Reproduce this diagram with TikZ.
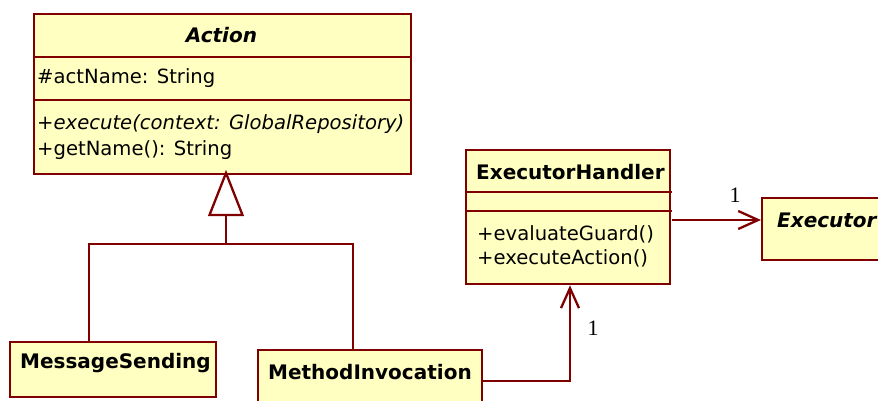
\documentclass[tikz,border=0pt]{standalone}
\usepackage{fontspec}
\setmainfont{DejaVu Sans}
\newfontfamily\mulfont{Liberation Serif}
\usetikzlibrary{arrows.meta}
\definecolor{umlborder}{RGB}{128,0,0}
\definecolor{umlfill}{RGB}{255,255,194}
\tikzset{
  classbox/.style={draw=umlborder, fill=umlfill, line width=2.3pt, rectangle, inner sep=0pt, anchor=north west},
  sepline/.style={draw=umlborder, line width=2pt},
  conn/.style={draw=umlborder, line width=2.3pt},
  member/.style={anchor=west, inner sep=0pt, font=\fontsize{19.6}{22}\selectfont},
  cname/.style={inner sep=0pt, font=\fontsize{20}{22}\selectfont\bfseries},
  mult/.style={inner sep=0pt, font=\fontsize{22}{24}\mulfont},
  assoc/.style={conn, -{Straight Barb[length=20pt,width=18pt,line width=2.3pt]}},
}
\begin{document}
\begin{tikzpicture}[x=1pt,y=-1pt]
\useasboundingbox (0,0) rectangle (878,401);

% Action (abstract)
\node[classbox, minimum width=377pt, minimum height=160pt] (action) at (33,13) {};
\draw[sepline] (33,57) -- (412,57);
\draw[sepline] (33,100) -- (412,100);
\node[cname, font=\fontsize{20}{22}\selectfont\bfseries\itshape] (actiont) at (221.5,35) {Action};
\node[member] (actattr) at (37,78) {\#actName: String};
\node[member, font=\fontsize{19.6}{22}\selectfont\itshape] (actop1) at (37,124) {+execute(context: GlobalRepository)};
\node[member] (actop2) at (37,150) {+getName(): String};

% ExecutorHandler
\node[classbox, minimum width=204pt, minimum height=134pt] (handler) at (465,149) {};
\draw[sepline] (465,192) -- (672,192);
\draw[sepline] (465,211) -- (672,211);
\node[cname, anchor=west] (handlert) at (476,172) {ExecutorHandler};
\node[member] (hop1) at (477,234) {+evaluateGuard()};
\node[member] (hop2) at (477,258) {+executeAction()};

% Executor (abstract)
\node[classbox, minimum width=130pt, minimum height=62pt] (executor) at (761,197) {};
\node[cname, anchor=west, font=\fontsize{20}{22}\selectfont\bfseries\itshape] (executort) at (777,220) {Executor};

% MessageSending
\node[classbox, minimum width=206pt, minimum height=55pt] (msgsend) at (9,341) {};
\node[cname, anchor=west] (msgsendt) at (20,363) {MessageSending};

% MethodInvocation
\node[classbox, minimum width=224pt, minimum height=62pt] (methinv) at (257,349) {};
\node[cname, anchor=west] (methinvt) at (268,372) {MethodInvocation};

% Generalization
\coordinate (genapex) at (226,173);
\coordinate (genjoin) at (226,244);
\draw[conn] (genjoin) -- (226,215);
\draw[conn] (89,0 |- msgsend.north) |- (genjoin) -| (353,0 |- methinv.north);
\draw[conn, fill=white, line join=miter] (genapex) -- ++(-16.5,42) -- ++(33,0) -- cycle;

% Associations
\draw[assoc] (methinv.east |- 0,381) -| (570,0 |- handler.south);
\node[mult] (m1) at (593,328) {1};
\draw[assoc] (672,220) -- (executor.west |- 0,220);
\node[mult] (m2) at (735,195) {1};
\end{tikzpicture}
\end{document}
